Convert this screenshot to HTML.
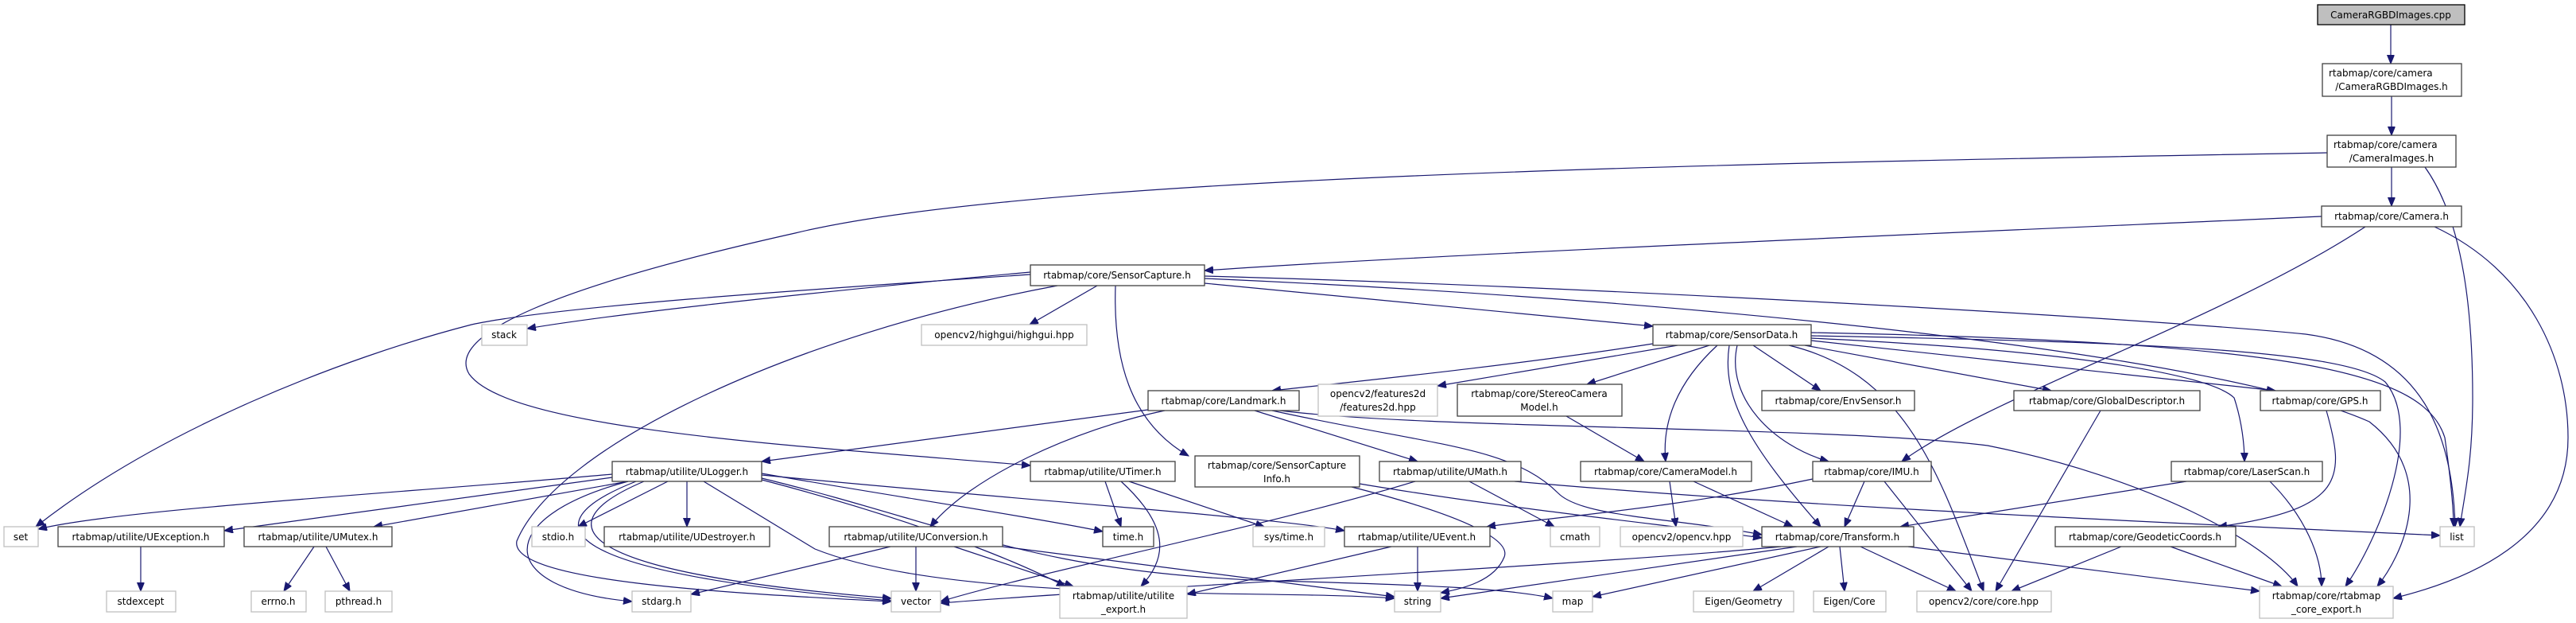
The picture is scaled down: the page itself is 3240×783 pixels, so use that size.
<!DOCTYPE html>
<html><head><meta charset="utf-8"><style>
html,body{margin:0;padding:0;background:#fff;}
svg{display:block;}
text{font-family:"DejaVu Sans","Liberation Sans",sans-serif;font-size:12px;fill:#000;}
.n{fill:#fff;stroke:#404040;stroke-width:1.3;}
.g{fill:#fff;stroke:#bfbfbf;stroke-width:1.3;}
.r{fill:#bfbfbf;stroke:#000;stroke-width:1.3;}
path.e{fill:none;stroke:#191970;stroke-width:1.2;marker-end:url(#a);}
</style></head><body>
<svg width="3240" height="783" viewBox="0 0 3240 783" xmlns="http://www.w3.org/2000/svg">
<defs><marker id="a" markerUnits="userSpaceOnUse" markerWidth="12" markerHeight="10" refX="11" refY="4.5" orient="auto"><path d="M0,0 L11,4.5 L0,9 z" fill="#191970" stroke="#191970"/></marker></defs>
<g>
<path class="e" d="M3007,31 L3007,80"/>
<path class="e" d="M3008,121 L3008,170"/>
<path class="e" d="M3008,210 L3008,259"/>
<path class="e" d="M3050,210 C3100,280 3110,400 3110,500 C3110,580 3100,620 3094,662"/>
<path class="e" d="M2927,192 C2200,205 1300,220 1000,293 C700,360 560,420 590,470 C640,540 1000,560 1296,585"/>
<path class="e" d="M2920,272 C2400,295 1800,320 1515,340"/>
<path class="e" d="M2975,285 C2800,400 2500,500 2392,580"/>
<path class="e" d="M3062,285 C3180,340 3230,450 3230,550 C3230,680 3100,730 3010,752"/>
<path class="e" d="M1296,342 C1100,360 800,390 663,413"/>
<path class="e" d="M1380,359 L1295,408"/>
<path class="e" d="M1296,345 C1000,365 700,385 593,408 C430,450 200,540 45,662"/>
<path class="e" d="M1330,359 C1000,420 700,560 650,680 C640,730 900,745 1121,756"/>
<path class="e" d="M1403,359 C1400,450 1420,530 1495,573"/>
<path class="e" d="M1515,356 L2079,410"/>
<path class="e" d="M1515,347 C2000,360 2700,400 2900,420 C3050,440 3085,550 3088,662"/>
<path class="e" d="M1515,350 C2200,380 2800,450 2980,530 C3070,600 3020,700 2990,737"/>
<path class="e" d="M2079,432 C1900,460 1700,480 1600,491"/>
<path class="e" d="M2110,434 L1808,485"/>
<path class="e" d="M2150,434 L1996,483"/>
<path class="e" d="M2160,434 C2110,480 2090,530 2095,580"/>
<path class="e" d="M2175,434 C2165,500 2200,560 2290,662"/>
<path class="e" d="M2185,434 C2170,500 2230,560 2300,580"/>
<path class="e" d="M2205,434 L2290,491"/>
<path class="e" d="M2250,434 C2400,470 2440,600 2495,743"/>
<path class="e" d="M2270,434 L2580,491"/>
<path class="e" d="M2278,428 L2862,491"/>
<path class="e" d="M2278,425 C2600,440 2780,470 2810,500 C2820,530 2823,560 2823,580"/>
<path class="e" d="M2278,422 C2700,430 2950,440 3000,480 C3050,540 2990,680 2950,737"/>
<path class="e" d="M2278,418 C2900,430 3050,470 3075,550 C3085,620 3086,650 3086,662"/>
<path class="e" d="M1444,515 L958,580"/>
<path class="e" d="M1465,516 C1350,540 1220,600 1170,662"/>
<path class="e" d="M1578,516 L1783,580"/>
<path class="e" d="M1600,516 C1800,560 1900,560 1960,620 C1990,650 2100,650 2216,672"/>
<path class="e" d="M1610,516 C1800,540 2300,535 2500,560 C2700,600 2850,680 2890,737"/>
<path class="e" d="M1970,523 L2068,580"/>
<path class="e" d="M2100,605 L2108,662"/>
<path class="e" d="M2130,605 L2255,662"/>
<path class="e" d="M1848,605 L1955,662"/>
<path class="e" d="M1780,605 C1600,660 1300,720 1183,756"/>
<path class="e" d="M1905,605 C2300,640 2800,660 3069,673"/>
<path class="e" d="M1710,608 C1900,640 2100,660 2216,676"/>
<path class="e" d="M1700,612 C1850,650 1900,680 1892,700 C1880,730 1840,740 1812,745"/>
<path class="e" d="M1390,605 L1410,662"/>
<path class="e" d="M1420,605 L1590,662"/>
<path class="e" d="M1410,605 C1470,660 1470,700 1435,737"/>
<path class="e" d="M2345,605 L2320,662"/>
<path class="e" d="M2370,605 L2480,743"/>
<path class="e" d="M2280,602 C2100,640 1950,650 1870,662"/>
<path class="e" d="M2750,605 L2390,662"/>
<path class="e" d="M2855,605 C2900,650 2920,700 2920,737"/>
<path class="e" d="M2642,516 L2510,743"/>
<path class="e" d="M2926,516 C2950,600 2950,640 2790,662"/>
<path class="e" d="M2668,687 L2530,743"/>
<path class="e" d="M2730,687 L2870,737"/>
<path class="e" d="M2240,687 C2000,710 1400,740 1183,758"/>
<path class="e" d="M2260,687 L1812,752"/>
<path class="e" d="M2290,687 L2003,750"/>
<path class="e" d="M2300,687 L2205,743"/>
<path class="e" d="M2314,687 L2320,743"/>
<path class="e" d="M2340,687 L2460,743"/>
<path class="e" d="M2400,687 L2842,743"/>
<path class="e" d="M1783,687 L1783,743"/>
<path class="e" d="M1750,687 L1493,747"/>
<path class="e" d="M1120,687 L869,747"/>
<path class="e" d="M1152,687 L1152,743"/>
<path class="e" d="M1200,687 L1350,737"/>
<path class="e" d="M1261,687 L1754,750"/>
<path class="e" d="M770,596 C500,620 150,640 48,665"/>
<path class="e" d="M770,600 L282,667"/>
<path class="e" d="M790,605 L470,662"/>
<path class="e" d="M840,605 L727,662"/>
<path class="e" d="M864,605 L864,662"/>
<path class="e" d="M790,605 C620,650 620,740 795,756"/>
<path class="e" d="M800,605 C660,660 700,720 1121,755"/>
<path class="e" d="M810,605 C680,660 720,720 1121,752"/>
<path class="e" d="M885,605 L1025,690 C1200,760 1600,740 1754,752"/>
<path class="e" d="M958,595 C1100,620 1300,650 1387,668"/>
<path class="e" d="M958,597 C1300,630 1600,650 1691,667"/>
<path class="e" d="M958,603 C1100,640 1250,690 1340,737"/>
<path class="e" d="M958,601 C1200,660 1300,720 1600,730 C1800,735 1900,740 1953,752"/>
<path class="e" d="M177,687 L177,743"/>
<path class="e" d="M395,687 L357,743"/>
<path class="e" d="M410,687 L440,743"/>
</g>
<g>
<rect class="r" x="2915" y="6" width="185" height="25"/><text x="3007" y="23" text-anchor="middle">CameraRGBDImages.cpp</text>
<rect class="n" x="2921" y="80" width="175" height="41"/><text x="2929" y="96">rtabmap/core/camera</text><text x="3008" y="113" text-anchor="middle">/CameraRGBDImages.h</text>
<rect class="n" x="2927" y="170" width="162" height="40"/><text x="2935" y="186">rtabmap/core/camera</text><text x="3008" y="203" text-anchor="middle">/CameraImages.h</text>
<rect class="n" x="2920" y="259" width="176" height="26"/><text x="3008" y="276" text-anchor="middle">rtabmap/core/Camera.h</text>
<rect class="n" x="1296" y="333" width="219" height="26"/><text x="1405" y="350" text-anchor="middle">rtabmap/core/SensorCapture.h</text>
<rect class="g" x="606" y="408" width="57" height="26"/><text x="634" y="425" text-anchor="middle">stack</text>
<rect class="g" x="1159" y="408" width="208" height="26"/><text x="1263" y="425" text-anchor="middle">opencv2/highgui/highgui.hpp</text>
<rect class="n" x="2079" y="408" width="199" height="26"/><text x="2178" y="425" text-anchor="middle">rtabmap/core/SensorData.h</text>
<rect class="n" x="1444" y="491" width="190" height="25"/><text x="1539" y="508" text-anchor="middle">rtabmap/core/Landmark.h</text>
<rect class="g" x="1658" y="483" width="150" height="40"/><text x="1733" y="499" text-anchor="middle">opencv2/features2d</text><text x="1733" y="516" text-anchor="middle">/features2d.hpp</text>
<rect class="n" x="1833" y="483" width="207" height="40"/><text x="1936" y="499" text-anchor="middle">rtabmap/core/StereoCamera</text><text x="1936" y="516" text-anchor="middle">Model.h</text>
<rect class="n" x="2216" y="491" width="192" height="25"/><text x="2312" y="508" text-anchor="middle">rtabmap/core/EnvSensor.h</text>
<rect class="n" x="2533" y="491" width="234" height="25"/><text x="2650" y="508" text-anchor="middle">rtabmap/core/GlobalDescriptor.h</text>
<rect class="n" x="2843" y="491" width="151" height="25"/><text x="2918" y="508" text-anchor="middle">rtabmap/core/GPS.h</text>
<rect class="n" x="770" y="580" width="188" height="25"/><text x="864" y="597" text-anchor="middle">rtabmap/utilite/ULogger.h</text>
<rect class="n" x="1296" y="580" width="182" height="25"/><text x="1387" y="597" text-anchor="middle">rtabmap/utilite/UTimer.h</text>
<rect class="n" x="1503" y="573" width="207" height="39"/><text x="1606" y="589" text-anchor="middle">rtabmap/core/SensorCapture</text><text x="1606" y="606" text-anchor="middle">Info.h</text>
<rect class="n" x="1735" y="580" width="178" height="25"/><text x="1824" y="597" text-anchor="middle">rtabmap/utilite/UMath.h</text>
<rect class="n" x="1988" y="580" width="215" height="25"/><text x="2095" y="597" text-anchor="middle">rtabmap/core/CameraModel.h</text>
<rect class="n" x="2280" y="580" width="149" height="25"/><text x="2354" y="597" text-anchor="middle">rtabmap/core/IMU.h</text>
<rect class="n" x="2731" y="580" width="190" height="25"/><text x="2826" y="597" text-anchor="middle">rtabmap/core/LaserScan.h</text>
<rect class="g" x="5" y="662" width="43" height="25"/><text x="26" y="679" text-anchor="middle">set</text>
<rect class="n" x="73" y="662" width="209" height="25"/><text x="177" y="679" text-anchor="middle">rtabmap/utilite/UException.h</text>
<rect class="n" x="307" y="662" width="186" height="25"/><text x="400" y="679" text-anchor="middle">rtabmap/utilite/UMutex.h</text>
<rect class="g" x="669" y="662" width="67" height="25"/><text x="702" y="679" text-anchor="middle">stdio.h</text>
<rect class="n" x="760" y="662" width="208" height="25"/><text x="864" y="679" text-anchor="middle">rtabmap/utilite/UDestroyer.h</text>
<rect class="n" x="1043" y="662" width="218" height="25"/><text x="1152" y="679" text-anchor="middle">rtabmap/utilite/UConversion.h</text>
<rect class="n" x="1387" y="662" width="64" height="25"/><text x="1419" y="679" text-anchor="middle">time.h</text>
<rect class="g" x="1576" y="662" width="90" height="25"/><text x="1621" y="679" text-anchor="middle">sys/time.h</text>
<rect class="n" x="1691" y="662" width="183" height="25"/><text x="1782" y="679" text-anchor="middle">rtabmap/utilite/UEvent.h</text>
<rect class="g" x="1950" y="662" width="62" height="25"/><text x="1981" y="679" text-anchor="middle">cmath</text>
<rect class="g" x="2038" y="662" width="154" height="25"/><text x="2115" y="679" text-anchor="middle">opencv2/opencv.hpp</text>
<rect class="n" x="2216" y="662" width="191" height="25"/><text x="2311" y="679" text-anchor="middle">rtabmap/core/Transform.h</text>
<rect class="n" x="2585" y="662" width="227" height="25"/><text x="2698" y="679" text-anchor="middle">rtabmap/core/GeodeticCoords.h</text>
<rect class="g" x="3069" y="662" width="43" height="25"/><text x="3090" y="679" text-anchor="middle">list</text>
<rect class="g" x="134" y="743" width="87" height="26"/><text x="177" y="760" text-anchor="middle">stdexcept</text>
<rect class="g" x="316" y="743" width="69" height="26"/><text x="350" y="760" text-anchor="middle">errno.h</text>
<rect class="g" x="409" y="743" width="84" height="26"/><text x="451" y="760" text-anchor="middle">pthread.h</text>
<rect class="g" x="795" y="743" width="74" height="26"/><text x="832" y="760" text-anchor="middle">stdarg.h</text>
<rect class="g" x="1121" y="743" width="62" height="26"/><text x="1152" y="760" text-anchor="middle">vector</text>
<rect class="g" x="1333" y="737" width="160" height="40"/><text x="1413" y="753" text-anchor="middle">rtabmap/utilite/utilite</text><text x="1413" y="770" text-anchor="middle">_export.h</text>
<rect class="g" x="1754" y="743" width="58" height="26"/><text x="1783" y="760" text-anchor="middle">string</text>
<rect class="g" x="1953" y="743" width="50" height="26"/><text x="1978" y="760" text-anchor="middle">map</text>
<rect class="g" x="2130" y="743" width="126" height="26"/><text x="2193" y="760" text-anchor="middle">Eigen/Geometry</text>
<rect class="g" x="2281" y="743" width="91" height="26"/><text x="2326" y="760" text-anchor="middle">Eigen/Core</text>
<rect class="g" x="2411" y="743" width="169" height="26"/><text x="2495" y="760" text-anchor="middle">opencv2/core/core.hpp</text>
<rect class="g" x="2842" y="737" width="168" height="40"/><text x="2926" y="753" text-anchor="middle">rtabmap/core/rtabmap</text><text x="2926" y="770" text-anchor="middle">_core_export.h</text>
</g>
</svg>
</body></html>
